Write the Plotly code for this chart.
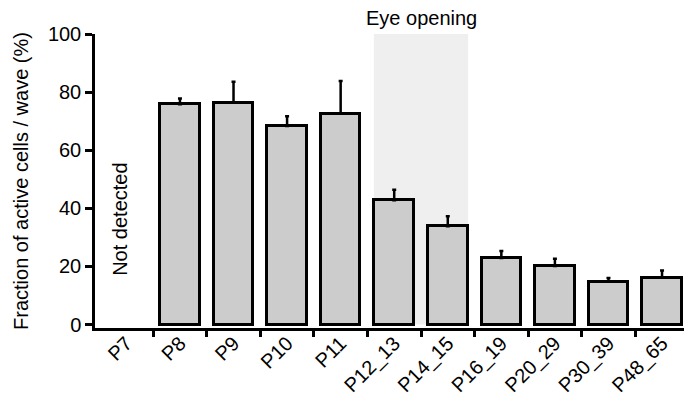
import plotly.graph_objects as go

categories = ["P7", "P8", "P9", "P10", "P11", "P12_13", "P14_15", "P16_19", "P20_29", "P30_39", "P48_65"]
means = [None, 75.8, 76.4, 68.3, 72.6, 42.8, 33.8, 22.9, 20.1, 14.8, 16.1]
errors = [None, 2.0, 7.2, 3.4, 11.2, 3.6, 3.5, 2.4, 2.5, 1.2, 2.5]
y_ticks = [0, 20, 40, 60, 80, 100]

FONT = "Liberation Sans, Arial, sans-serif"

fig = go.Figure()
fig.add_trace(go.Bar(
    x=list(range(len(categories))),
    y=means,
    width=0.74,
    marker=dict(color="#cccccc", line=dict(color="black", width=3)),
    error_y=dict(type="data", array=errors, arrayminus=[0] * len(errors),
                 symmetric=False, color="black", thickness=2.5, width=2),
    showlegend=False,
))

# Eye-opening shaded region (behind bars)
fig.add_shape(type="rect", xref="x", yref="y", x0=4.62, x1=6.38, y0=0, y1=100,
              fillcolor="#efefef", line=dict(width=0), layer="below")

fig.add_annotation(x=5.5, y=1.055, xref="x", yref="paper", text="Eye opening",
                   showarrow=False, font=dict(family=FONT, size=20, color="black"),
                   yanchor="middle", xanchor="center")
fig.add_annotation(x=-0.11, y=36.2, xref="x", yref="y", text="Not detected",
                   showarrow=False, textangle=-90,
                   font=dict(family=FONT, size=20, color="black"))

fig.update_layout(
    width=684, height=393,
    margin=dict(l=95, r=0, t=34, b=65),
    paper_bgcolor="white", plot_bgcolor="white",
    font=dict(family=FONT, size=20, color="black"),
    bargap=0,
)
fig.update_xaxes(
    tickmode="array", tickvals=list(range(len(categories))), ticktext=categories,
    range=[-0.586, 10.41], tickangle=-45, automargin=False,
    showline=True, linecolor="black", linewidth=2.5,
    ticks="", showgrid=False, zeroline=False, ticklabelstandoff=-7,
    tickfont=dict(family=FONT, size=20, color="black"),
)
# boundary tick marks between categories via minor ticks
fig.update_xaxes(minor=dict(tickmode="array",
                            tickvals=[i + 0.5 for i in range(len(categories) - 1)],
                            ticks="outside", ticklen=6, tickwidth=2.5, tickcolor="black"))
fig.update_yaxes(
    range=[-1.2, 100], tickvals=y_ticks, automargin=False,
    showline=True, linecolor="black", linewidth=2.5,
    ticks="outside", ticklen=7, tickwidth=2.5, tickcolor="black",
    showgrid=False, zeroline=False,
    tickfont=dict(family=FONT, size=20, color="black"),
    title=dict(text="Fraction of active cells / wave (%)", standoff=14,
               font=dict(family=FONT, size=20, color="black")),
)

fig.write_html("out.html", config={"displayModeBar": False},
               post_script="document.body.style.margin='0';document.body.style.overflow='hidden';")
